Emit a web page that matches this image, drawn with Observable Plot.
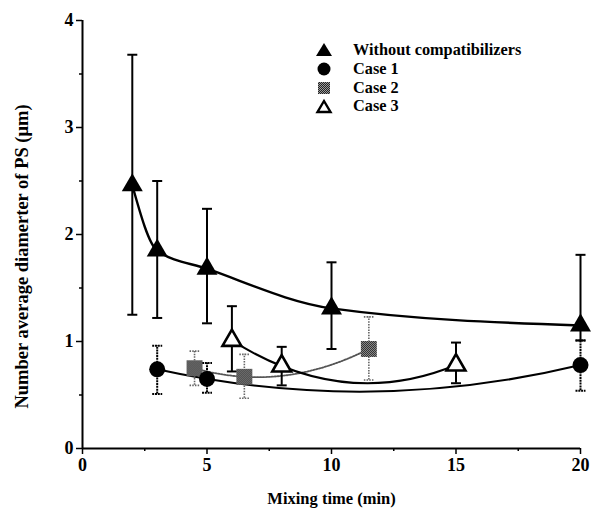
<!DOCTYPE html>
<html>
<head>
<meta charset="utf-8">
<script src="https://cdn.jsdelivr.net/npm/d3@7"></script>
<script src="https://cdn.jsdelivr.net/npm/@observablehq/plot@0.6"></script>
<style>
  html, body { margin: 0; padding: 0; background: #fff; }
  #wrap { position: relative; width: 593px; height: 512px; font-family: "Liberation Serif", "DejaVu Serif", serif; }
  #legend { position: absolute; left: 312px; top: 41px; font-weight: bold; font-size: 16.3px; color: #000; }
  #legend .row { display: flex; align-items: center; height: 18.7px; }
  #legend svg { width: 24px; height: 18px; margin-right: 17px; }
</style>
</head>
<body>
<div id="wrap"><div id="legend"></div></div>
<script>
// ---- data ----
const seriesNames = ["Without compatibilizers", "Case 1", "Case 2", "Case 3"];
const xTitle = "Mixing time (min)";
const yTitle = "Number average diamerter of PS (μm)";

const noCompTime = [2, 3, 5, 10, 20];
const noCompMean = [2.46, 1.85, 1.68, 1.31, 1.15];
const noCompLow  = [1.25, 1.22, 1.17, 0.93, 1.01];
const noCompHigh = [3.68, 2.50, 2.24, 1.74, 1.81];

const case1Time = [3, 5, 20];
const case1Mean = [0.74, 0.65, 0.78];
const case1Low  = [0.51, 0.52, 0.54];
const case1High = [0.96, 0.80, 1.01];

const case2Time = [4.5, 6.5, 11.5];
const case2Mean = [0.75, 0.67, 0.93];
const case2Low  = [0.59, 0.47, 0.64];
const case2High = [0.91, 0.88, 1.23];

const case3Time = [6, 8, 15];
const case3Mean = [1.01, 0.77, 0.78];
const case3Low  = [0.72, 0.59, 0.61];
const case3High = [1.33, 0.95, 0.99];

const xMajorTicks = [0, 5, 10, 15, 20];
const xMinorTicks = [2.5, 7.5, 12.5, 17.5];
const yMajorTicks = [0, 1, 2, 3, 4];
const yMinorTicks = [0.5, 1.5, 2.5, 3.5];

const rows = (t, m, lo, hi) => t.map((x, i) => ({x, y: m[i], lo: lo[i], hi: hi[i]}));
const noComp = rows(noCompTime, noCompMean, noCompLow, noCompHigh);
const case1 = rows(case1Time, case1Mean, case1Low, case1High);
const case2 = rows(case2Time, case2Mean, case2Low, case2High);
const case3 = rows(case3Time, case3Mean, case3Low, case3High);

// smooth second-order curve through three points (drawn as one quadratic Bézier)
function curveQuadFit(context) {
  let pts;
  return {
    areaStart() {}, areaEnd() {},
    lineStart() { pts = []; },
    point(x, y) { pts.push([+x, +y]); },
    lineEnd() {
      if (pts.length !== 3) {
        pts.forEach(([x, y], i) => i ? context.lineTo(x, y) : context.moveTo(x, y));
        return;
      }
      const [[x0, y0], [x1, y1], [x2, y2]] = pts;
      const d01 = (y1 - y0) / (x1 - x0), d12 = (y2 - y1) / (x2 - x1);
      const a = (d12 - d01) / (x2 - x0);
      const slope0 = d01 + a * (x0 - x1);
      context.moveTo(x0, y0);
      context.quadraticCurveTo((x0 + x2) / 2, y0 + slope0 * (x2 - x0) / 2, x2, y2);
    }
  };
}

// horizontal cap symbol for error bars
const cap = {draw(ctx) { ctx.moveTo(-5, 0); ctx.lineTo(5, 0); }};

function errorBars(data, opts) {
  return [
    Plot.ruleX(data, {x: "x", y1: "lo", y2: "hi", ...opts}),
    Plot.dot(data, {x: "x", y: "lo", symbol: cap, r: 5, fill: "none", ...opts}),
    Plot.dot(data, {x: "x", y: "hi", symbol: cap, r: 5, fill: "none", ...opts})
  ];
}

const gray = {stroke: "#666", strokeWidth: 1.6, strokeDasharray: "1.5,1.2"};
const blk = {stroke: "#000", strokeWidth: 2};
const noText = () => "";

const chart = Plot.plot({
  width: 593,
  height: 512,
  marginLeft: 82,
  marginRight: 13,
  marginTop: 20,
  marginBottom: 64,
  style: {fontFamily: "Liberation Serif", fontWeight: "bold", fontSize: "18px", color: "#000", background: "#fff"},
  x: {domain: [0, 20]},
  y: {domain: [0, 4]},
  marks: [
    Plot.axisX({ticks: xMajorTicks, tickSize: 6, tickPadding: 4, tickFormat: d => d, label: null, strokeWidth: 1.5, fontSize: 18}),
    Plot.axisX({ticks: xMinorTicks, tickSize: 3, tickFormat: noText, label: null, strokeWidth: 1.5}),
    Plot.axisY({ticks: yMajorTicks, tickSize: 6, tickPadding: 3, tickFormat: d => d, label: null, strokeWidth: 1.5, fontSize: 18}),
    Plot.axisY({ticks: yMinorTicks, tickSize: 3, tickFormat: noText, label: null, strokeWidth: 1.5}),
    Plot.text([xTitle], {text: d => d, frameAnchor: "bottom", textAnchor: "middle", dy: 55, fontSize: 16.5, fontWeight: "bold"}),
    Plot.text([yTitle], {text: d => d, frameAnchor: "left", textAnchor: "middle", lineAnchor: "middle", rotate: -90, dx: -60, dy: 22, fontSize: 18.5, fontWeight: "bold"}),
    Plot.ruleY([0], {stroke: "#000", strokeWidth: 2}),
    Plot.ruleX([0], {stroke: "#000", strokeWidth: 2}),

    // curves
    Plot.line(case2, {x: "x", y: "y", curve: curveQuadFit, stroke: "#555", strokeWidth: 1.8, strokeDasharray: "1.6,1.4"}),
    Plot.line(case1, {x: "x", y: "y", curve: curveQuadFit, stroke: "#000", strokeWidth: 2}),
    Plot.line(case3, {x: "x", y: "y", curve: curveQuadFit, stroke: "#000", strokeWidth: 2}),
    Plot.line(noComp, {x: "x", y: "y", curve: "monotone-x", stroke: "#000", strokeWidth: 2.4}),

    // error bars
    ...errorBars(case2, gray),
    ...errorBars(case1, {stroke: "#000", strokeWidth: 2, strokeDasharray: "2,0.8"}),
    ...errorBars(case3, blk),
    ...errorBars(noComp, blk),

    // markers
    Plot.dot(case2, {x: "x", y: "y", symbol: "square", r: 9, fill: "url(#dither)", stroke: "none"}),
    Plot.dot(case1, {x: "x", y: "y", symbol: "circle", r: 8, fill: "#000", stroke: "none"}),
    Plot.dot(case3, {x: "x", y: "y", symbol: "triangle", r: 7, fill: "#fff", stroke: "#000", strokeWidth: 2.6}),
    Plot.dot(noComp, {x: "x", y: "y", symbol: "triangle", r: 7.8, fill: "#000", stroke: "none"})
  ]
});

// dithered grey fill pattern like the reference's halftone squares
const defs = d3.select(chart).insert("defs", ":first-child");
const pat = defs.append("pattern").attr("id", "dither").attr("width", 2).attr("height", 2).attr("patternUnits", "userSpaceOnUse");
pat.append("rect").attr("width", 2).attr("height", 2).attr("fill", "#9a9a9a");
pat.append("rect").attr("x", 0).attr("y", 0).attr("width", 1).attr("height", 1).attr("fill", "#222");
pat.append("rect").attr("x", 1).attr("y", 1).attr("width", 1).attr("height", 1).attr("fill", "#222");

document.getElementById("wrap").prepend(chart);
chart.style.position = "absolute";
chart.style.left = "0";
chart.style.top = "0";

// legend
const symbolsSvg = [
  '<path d="M12,2 L20,15 L4,15 Z" fill="#000"/>',
  '<circle cx="12" cy="9" r="6.5" fill="#000"/>',
  '<rect x="6" y="3" width="12" height="12" fill="url(#dither2)"/>',
  '<path d="M12,4 L18.5,15 L5.5,15 Z" fill="#fff" stroke="#000" stroke-width="2.4"/>'
];
const legend = document.getElementById("legend");
seriesNames.forEach((name, i) => {
  const row = document.createElement("div");
  row.className = "row";
  row.innerHTML = `<svg viewBox="0 0 24 18"><defs><pattern id="dither2" width="2" height="2" patternUnits="userSpaceOnUse"><rect width="2" height="2" fill="#9a9a9a"/><rect width="1" height="1" fill="#222"/><rect x="1" y="1" width="1" height="1" fill="#222"/></pattern></defs>${symbolsSvg[i]}</svg><span>${name}</span>`;
  legend.appendChild(row);
});
</script>
</body>
</html>
